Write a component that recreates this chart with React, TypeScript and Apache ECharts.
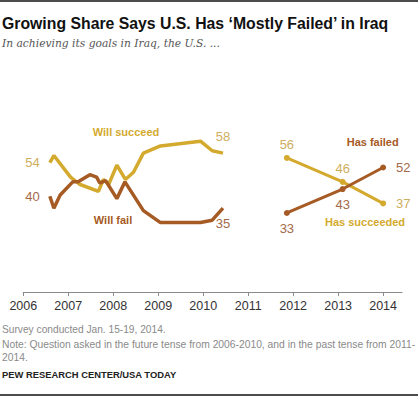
import React, { useEffect, useRef } from "react";
import * as echarts from "echarts";

const yearTicks = [2006, 2007, 2008, 2009, 2010, 2011, 2012, 2013, 2014];

const willSucceedDates = [2006.59, 2006.68, 2007.05, 2007.25, 2007.67, 2007.78, 2007.9, 2008.08, 2008.27, 2008.45, 2008.67, 2009.05, 2009.94, 2010.2, 2010.44];
const willSucceedValues = [54, 57, 48, 45, 42, 47, 45, 53, 47, 50, 58, 61, 63, 59, 58];

const willFailDates = [2006.59, 2006.68, 2006.82, 2007.1, 2007.22, 2007.48, 2007.63, 2007.7, 2007.83, 2008.08, 2008.26, 2008.67, 2009.05, 2009.94, 2010.2, 2010.44];
const willFailValues = [40, 35, 40.5, 46, 46, 49, 48, 45.5, 46.5, 39, 46, 34, 29, 29, 30, 35];

const pastDates = [2011.86, 2013.1, 2014.0];
const hasSucceededValues = [56, 46, 37];
const hasFailedValues = [33, 43, 52];

const GOLD = "#D4AA2E";
const BROWN = "#A65A24";
const GOLD_LABEL = "#CDAE5C";
const BROWN_LABEL = "#A2694A";

export default function App() {
  const ref = useRef<HTMLDivElement>(null);
  useEffect(() => {
    if (!ref.current) return;
    const chart = echarts.init(ref.current, null, { renderer: "svg" });
    const labelFont = { fontFamily: "Liberation Sans", fontSize: 13 };

    const pts = (dates: number[], vals: number[], labels: Record<number, any>, color: string) =>
      dates.map((d, i) => {
        const item: any = { value: [d, vals[i]] };
        if (labels[i]) {
          item.label = { show: true, color, ...labelFont, formatter: String(vals[i]), ...labels[i] };
        }
        return item;
      });

    const lastS = willSucceedValues.length - 1;
    const lastF = willFailValues.length - 1;

    chart.setOption({
      animation: false,
      grid: { left: 23.3, right: 18, top: 124.4, bottom: 105 },
      xAxis: {
        type: "value",
        min: 2006,
        max: 2014.42,
        interval: 1,
        splitLine: { show: false },
        axisLine: { show: true, lineStyle: { color: "#8a8a8a", width: 1 } },
        axisTick: { show: true, length: 4, lineStyle: { color: "#8a8a8a" }, customValues: yearTicks },
        axisLabel: {
          customValues: yearTicks,
          color: "#333",
          fontSize: 12.5,
          fontFamily: "Liberation Sans",
          margin: 7,
          formatter: (v: number) => String(v),
        },
      },
      yAxis: { type: "value", min: 0, max: 70, show: false, splitLine: { show: false } },
      series: [
        {
          name: "Will succeed",
          type: "line",
          symbol: "circle",
          symbolSize: 0.01,
          showSymbol: true,
          showAllSymbol: true,
          lineStyle: { color: GOLD, width: 3.5 },
          itemStyle: { color: GOLD },
          labelLayout: { hideOverlap: false },
          data: pts(willSucceedDates, willSucceedValues, {
            0: { position: "left", distance: 10 },
            [lastS]: { position: "top", distance: 10 },
          }, GOLD_LABEL),
        },
        {
          name: "Will fail",
          type: "line",
          symbol: "circle",
          symbolSize: 0.01,
          showSymbol: true,
          showAllSymbol: true,
          lineStyle: { color: BROWN, width: 3.5 },
          itemStyle: { color: BROWN },
          data: pts(willFailDates, willFailValues, {
            0: { position: "left", distance: 10 },
            [lastF]: { position: "bottom", distance: 9 },
          }, BROWN_LABEL),
        },
        {
          name: "Has succeeded",
          type: "line",
          symbol: "circle",
          symbolSize: 6,
          showAllSymbol: true,
          lineStyle: { color: GOLD, width: 3 },
          itemStyle: { color: GOLD },
          data: pts(pastDates, hasSucceededValues, {
            0: { position: "top", distance: 4 },
            1: { position: "top", distance: 4 },
            2: { position: "right", distance: 10 },
          }, GOLD_LABEL),
        },
        {
          name: "Has failed",
          type: "line",
          symbol: "circle",
          symbolSize: 6,
          showAllSymbol: true,
          lineStyle: { color: BROWN, width: 3 },
          itemStyle: { color: BROWN },
          data: pts(pastDates, hasFailedValues, {
            0: { position: "bottom", distance: 6 },
            1: { position: "bottom", distance: 6 },
            2: { position: "right", distance: 10 },
          }, BROWN_LABEL),
        },
      ],
      graphic: [
        { type: "line", shape: { x1: 0, y1: 1, x2: 418, y2: 1 }, style: { stroke: "#111", lineWidth: 1.5 } },
        {
          type: "text", left: 2, top: 15,
          style: { text: "Growing Share Says U.S. Has \u2018Mostly Failed\u2019 in Iraq", fontFamily: "Liberation Sans", fontWeight: "bold", fontSize: 15.8, fill: "#111" },
        },
        {
          type: "text", left: 2, top: 38,
          style: { text: "In achieving its goals in Iraq, the U.S. ...", fontFamily: "DejaVu Serif", fontStyle: "italic", fontSize: 10.7, fill: "#555" },
        },
        {
          type: "text", x: 126, y: 132,
          style: { text: "Will succeed", align: "center", verticalAlign: "middle", fontFamily: "Liberation Sans", fontWeight: "bold", fontSize: 11, fill: GOLD },
        },
        {
          type: "text", x: 113, y: 220,
          style: { text: "Will fail", align: "center", verticalAlign: "middle", fontFamily: "Liberation Sans", fontWeight: "bold", fontSize: 11, fill: BROWN },
        },
        {
          type: "text", x: 372.7, y: 142,
          style: { text: "Has failed", align: "center", verticalAlign: "middle", fontFamily: "Liberation Sans", fontWeight: "bold", fontSize: 11, fill: BROWN },
        },
        {
          type: "text", x: 365, y: 222,
          style: { text: "Has succeeded", align: "center", verticalAlign: "middle", fontFamily: "Liberation Sans", fontWeight: "bold", fontSize: 11, fill: GOLD },
        },
        {
          type: "text", left: 2, top: 324,
          style: { text: "Survey conducted Jan. 15-19, 2014.", fontFamily: "Liberation Sans", fontSize: 10.2, fill: "#8a8a8a" },
        },
        {
          type: "text", left: 2, top: 338,
          style: { text: "Note: Question asked in the future tense from 2006-2010, and in the past tense from 2011-\n2014.", fontFamily: "Liberation Sans", fontSize: 10.3, lineHeight: 13, fill: "#8a8a8a" },
        },
        {
          type: "text", left: 2, top: 370,
          style: { text: "PEW RESEARCH CENTER/USA TODAY", fontFamily: "Liberation Sans", fontWeight: "bold", fontSize: 9.4, fill: "#222" },
        },
        { type: "line", shape: { x1: 0, y1: 395, x2: 418, y2: 395 }, style: { stroke: "#111", lineWidth: 1.5 } },
      ],
    });
    return () => chart.dispose();
  }, []);
  return <div ref={ref} style={{ width: 420, height: 397, position: "absolute", left: 0, top: 0 }} />;
}
